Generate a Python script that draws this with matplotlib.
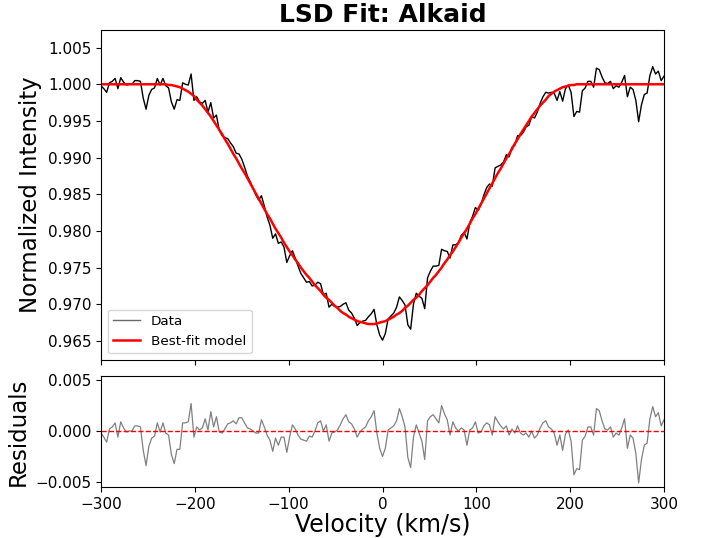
import numpy as np
import matplotlib

matplotlib.use("Agg")
import matplotlib.pyplot as plt

# Velocity grid (km/s), 3 km/s steps
velocity = np.arange(-300, 301, 3)

# Best-fit model line depth, in units of 1e-4 below the continuum
model_depth = (
    [0] * 24
    + [1, 1, 2, 3, 4, 6, 8, 10, 13, 16, 21, 25, 29, 34, 39, 44, 50, 56, 62, 68,
       75, 81, 88, 95, 101, 108, 115, 121, 128, 135, 142, 149, 156, 163, 170, 177,
       183, 190, 197, 203, 209, 216, 222, 228, 233, 239, 244, 250, 255, 260, 264,
       269, 274, 278, 282, 287, 291, 294, 298, 302, 305, 309, 312, 314, 317, 319,
       321, 323, 324, 325, 326, 327, 327]
    + [327, 326, 325, 324, 323, 321, 319, 317, 314, 312, 309, 305, 302, 298, 294,
       291, 287, 282, 278, 274, 269, 264, 260, 255, 250, 244, 239, 233, 228, 222,
       216, 209, 203, 197, 190, 183, 177, 170, 163, 156, 149, 142, 135, 128, 121,
       115, 108, 101, 95, 88, 81, 75, 68, 62, 56, 50, 44, 39, 34, 29, 25, 21, 16,
       13, 10, 8, 6, 4, 3, 2, 1, 1, 0]
    + [0] * 31
)

# Residuals (data - model), in units of 1e-4
resid_e4 = [
    -2, -6, -11, 2, 4, 8, -6, 9, 3, -1,
    0, 0, 5, 5, 4, -19, -34, -15, -7, -5,
    8, -1, 8, -2, -4, -23, -32, -18, -18, 8,
    8, 9, 27, -6, 4, 1, 3, 12, 1, 19,
    4, 14, -1, -2, 2, 7, 8, 10, 7, 13,
    13, 8, 3, 2, 0, -2, -2, 11, 4, -4,
    -9, -20, -7, -14, -6, -6, -21, -6, 6, 2,
    -4, -8, -9, -10, -5, -6, 0, 8, 10, 0,
    6, -10, -2, -1, 1, 6, 12, 16, 9, 7,
    2, -6, -1, 2, 4, 10, 14, 20, -2, -17,
    -25, -17, 1, 3, 5, 10, 22, 14, 4, -26,
    -36, -6, 6, -2, -10, -28, 10, 14, 16, 12,
    8, 25, 17, 11, -4, 9, 3, 0, 3, 1,
    -14, 1, 3, 9, -2, -1, 5, 8, 6, -4,
    14, 9, 5, 2, 5, -4, 2, -2, 5, -2,
    -4, -2, -6, 0, -7, -4, 3, 8, 10, 4,
    2, -2, -14, -4, -19, -3, 1, -10, -43, -37,
    -38, -9, -5, 4, 4, -4, 22, 20, 10, 2,
    1, 4, -6, -2, -4, 3, 12, -17, -4, -7,
    -22, -51, -28, -14, -12, 12, 24, 14, 18, 5,
    11,
]

model = 1.0 - np.array(model_depth) * 1e-4
resid = np.array(resid_e4) * 1e-4
data = model + resid

fig = plt.figure(figsize=(7.03, 5.38), dpi=100)
ax = fig.add_axes([0.1437, 0.3309, 0.8008, 0.6133])
axr = fig.add_axes([0.1437, 0.0948, 0.8008, 0.2063], sharex=ax)

# Top panel: data and model
ax.plot(velocity, data, color="black", linewidth=1.0, label="Data")
ax.plot(velocity, model, color="red", linewidth=1.8, label="Best-fit model")
ax.set_xlim(-300, 300)
ax.set_ylim(0.9624, 1.0074)
ax.set_yticks([0.965, 0.970, 0.975, 0.980, 0.985, 0.990, 0.995, 1.000, 1.005])
ax.set_ylabel("Normalized Intensity", fontsize=16.5)
ax.set_title("LSD Fit: Alkaid", fontsize=18, fontweight="bold")
ax.tick_params(labelsize=11, labelbottom=False)
leg = ax.legend(loc="lower left", fontsize=9.7)
leg.get_lines()[0].set_color("dimgray")

# Bottom panel: residuals
axr.plot(velocity, resid, color="gray", linewidth=0.9)
axr.axhline(0, color="red", linestyle="--", linewidth=1.0)
axr.set_ylim(-0.0055, 0.0054)
axr.set_yticks([-0.005, 0.0, 0.005])
axr.set_xticks([-300, -200, -100, 0, 100, 200, 300])
axr.set_xlabel("Velocity (km/s)", fontsize=17, labelpad=1)
axr.set_ylabel("Residuals", fontsize=16.5)
axr.tick_params(labelsize=11)

fig.savefig("out.png", dpi=100)
